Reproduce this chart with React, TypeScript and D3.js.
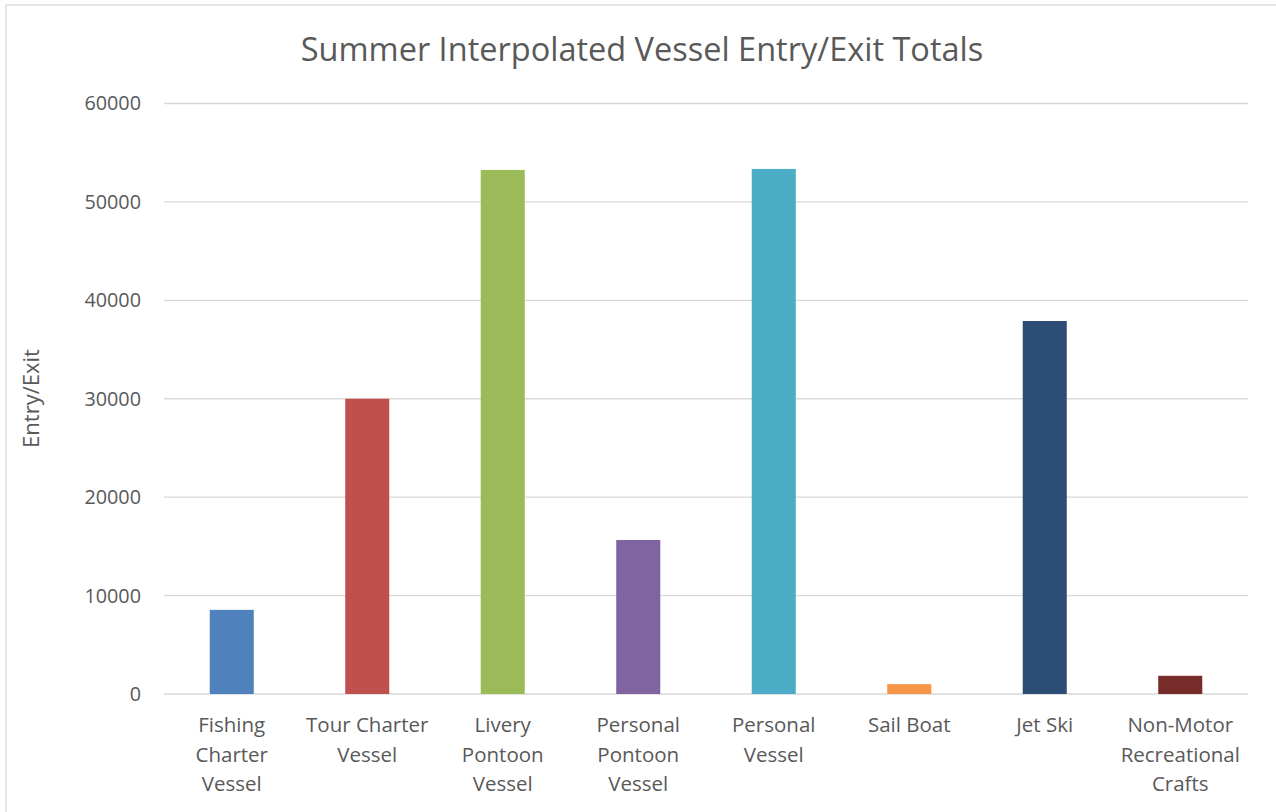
import React from "react";
import * as d3 from "d3";

const categories = [
  ["Fishing", "Charter", "Vessel"],
  ["Tour Charter", "Vessel"],
  ["Livery", "Pontoon", "Vessel"],
  ["Personal", "Pontoon", "Vessel"],
  ["Personal", "Vessel"],
  ["Sail Boat"],
  ["Jet Ski"],
  ["Non-Motor", "Recreational", "Crafts"],
];
const values = [8550, 30000, 53250, 15650, 53350, 1000, 37900, 1850];
const colors = ["#4F81BD", "#C0504D", "#9BBB59", "#8064A2", "#4BACC6", "#F79646", "#2C4D75", "#772C2A"];
const yTicks = [0, 10000, 20000, 30000, 40000, 50000, 60000];
const title = "Summer Interpolated Vessel Entry/Exit Totals";
const yLabel = "Entry/Exit";

const W = 1276;
const H = 812;
const FONT = "'Open Sans', sans-serif";
const TXT = "#595959";

export default function App() {
  const keys = categories.map((c) => c.join(" "));
  const x = d3.scaleBand().domain(keys).range([164, 1248]).paddingInner(0.675).paddingOuter(0.3375);
  const y = d3.scaleLinear().domain([0, 60000]).range([694, 103.5]);
  return (
    <svg width={W} height={H} style={{ position: "absolute", left: 0, top: 0, background: "#fff" }}>
      <rect x={6} y={5} width={W} height={H} fill="#fff" stroke="#d9d9d9" strokeWidth={1.3} />
      <text x={642} y={61} textAnchor="middle" fontFamily={FONT} fontSize={32.5} fill={TXT}>
        {title}
      </text>
      {yTicks.map((t) => (
        <g key={t}>
          <line x1={164} x2={1248} y1={y(t)} y2={y(t)} stroke="#d9d9d9" strokeWidth={1.3} />
          <text x={141} y={y(t)} dy="0.35em" textAnchor="end" fontFamily={FONT} fontSize={19.8} fill={TXT}>
            {t}
          </text>
        </g>
      ))}
      <text
        transform={`translate(39,${398.5}) rotate(-90)`}
        textAnchor="middle"
        fontFamily={FONT}
        fontSize={22}
        fill={TXT}
      >
        {yLabel}
      </text>
      {values.map((v, i) => (
        <rect
          key={keys[i]}
          x={x(keys[i])}
          y={y(v)}
          width={x.bandwidth()}
          height={y(0) - y(v)}
          fill={colors[i]}
        />
      ))}
      {categories.map((lines, i) => (
        <text
          key={keys[i]}
          textAnchor="middle"
          fontFamily={FONT}
          fontSize={20.5}
          fill={TXT}
        >
          {lines.map((l, j) => (
            <tspan key={j} x={(x(keys[i]) as number) + x.bandwidth() / 2} y={732 + j * 29.5}>
              {l}
            </tspan>
          ))}
        </text>
      ))}
    </svg>
  );
}
